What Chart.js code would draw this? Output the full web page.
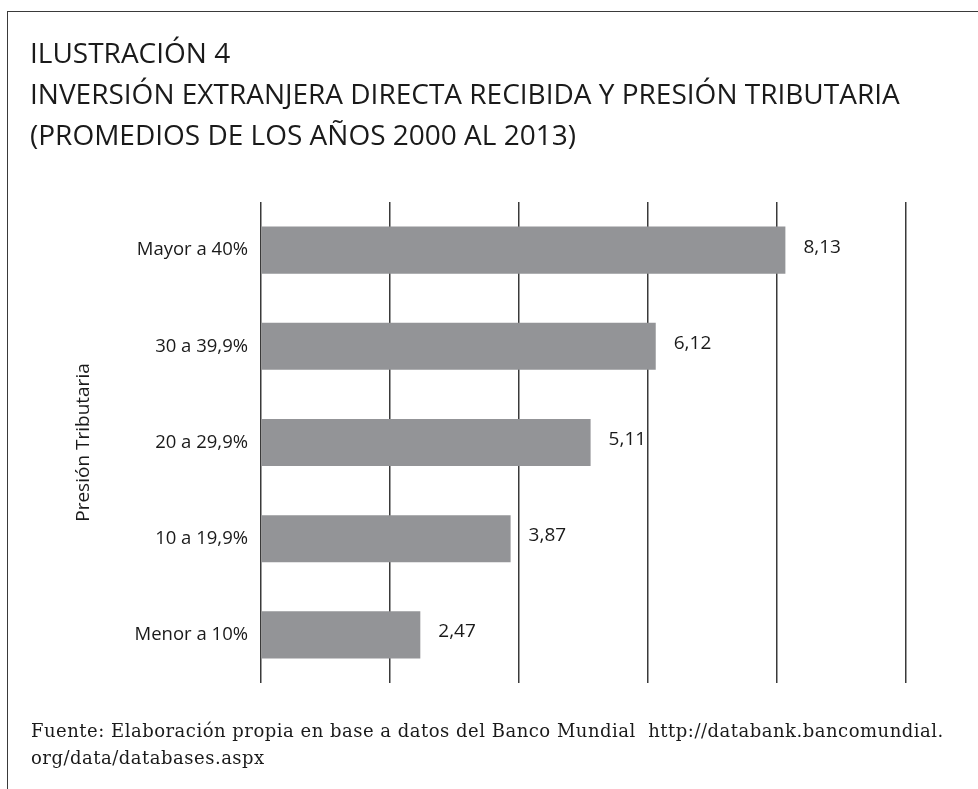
<!DOCTYPE html>
<html>
<head>
<meta charset="utf-8">
<script src="https://cdn.jsdelivr.net/npm/chart.js@4"></script>
<style>
  html, body { margin: 0; padding: 0; background: #fff; overflow: hidden; }
  body { width: 978px; height: 789px; position: relative; }
  .frame {
    position: absolute; left: 7px; top: 11px; right: -10px; bottom: -10px;
    border-top: 1.5px solid #3a3a3a; border-left: 1.5px solid #3a3a3a;
  }
  canvas { position: absolute; left: 0; top: 0; }
  .title {
    position: absolute; left: 30px; top: 32px;
    font-family: 'Open Sans', sans-serif; font-size: 28px; line-height: 41px;
    color: #1a1a1a; white-space: nowrap;
  }
  .source {
    position: absolute; left: 31px; top: 717px;
    font-family: 'DejaVu Serif', serif; font-size: 18px; line-height: 27px;
    letter-spacing: 0.5px; color: #1a1a1a; white-space: nowrap;
  }
</style>
</head>
<body>
<div class="frame"></div>
<canvas id="chart" width="978" height="789"></canvas>
<div class="title">ILUSTRACIÓN 4<br>INVERSIÓN EXTRANJERA DIRECTA RECIBIDA Y PRESIÓN TRIBUTARIA<br>(PROMEDIOS DE LOS AÑOS 2000 AL 2013)</div>
<div class="source">Fuente: Elaboración propia en base a datos del Banco Mundial &nbsp;http://databank.bancomundial.<br>org/data/databases.aspx</div>
<script>
// Inversión extranjera directa por tramo de presión tributaria
const categories = ['Mayor a 40%', '30 a 39,9%', '20 a 29,9%', '10 a 19,9%', 'Menor a 10%']
const ied = [8.13, 6.12, 5.11, 3.87, 2.47]
const xTicks = [0, 2, 4, 6, 8, 10]

const barColor = '#939497'
const gridColor = '#3a3a3a'

// writes the value with a decimal comma to the right of each bar
const valueLabels = {
  id: 'valueLabels',
  afterDatasetsDraw(chart) {
    const ctx = chart.ctx
    const meta = chart.getDatasetMeta(0)
    ctx.save()
    ctx.font = "19px 'Open Sans', sans-serif"
    ctx.fillStyle = '#1a1a1a'
    ctx.textAlign = 'left'
    ctx.textBaseline = 'middle'
    meta.data.forEach((bar, i) => {
      ctx.fillText(ied[i].toFixed(2).replace('.', ','), bar.x + 18, bar.y - 3)
    })
    ctx.restore()
  }
}

new Chart(document.getElementById('chart'), {
  type: 'bar',
  data: {
    labels: categories,
    datasets: [{
      data: ied,
      backgroundColor: barColor,
      borderWidth: 0,
      categoryPercentage: 1,
      barPercentage: 0.49
    }]
  },
  options: {
    indexAxis: 'y',
    responsive: false,
    animation: false,
    devicePixelRatio: 1,
    layout: { padding: { left: 68, top: 202, right: 72, bottom: 106 } },
    plugins: {
      legend: { display: false },
      tooltip: { enabled: false }
    },
    scales: {
      x: {
        min: xTicks[0],
        max: xTicks[xTicks.length - 1],
        afterBuildTicks: (scale) => { scale.ticks = xTicks.map(v => ({ value: v })) },
        ticks: { display: false },
        border: { display: false },
        grid: { color: gridColor, lineWidth: 1.5, drawTicks: false }
      },
      y: {
        afterFit: (scale) => { scale.width = 193 },
        border: { display: false },
        grid: { display: false, drawTicks: false },
        ticks: {
          color: '#1a1a1a',
          padding: 13,
          font: { family: "'Open Sans', sans-serif", size: 18.5 }
        },
        title: {
          display: true,
          text: 'Presión Tributaria',
          color: '#1a1a1a',
          padding: 4,
          font: { family: "'Open Sans', sans-serif", size: 19 }
        }
      }
    }
  },
  plugins: [valueLabels]
})
</script>
</body>
</html>
